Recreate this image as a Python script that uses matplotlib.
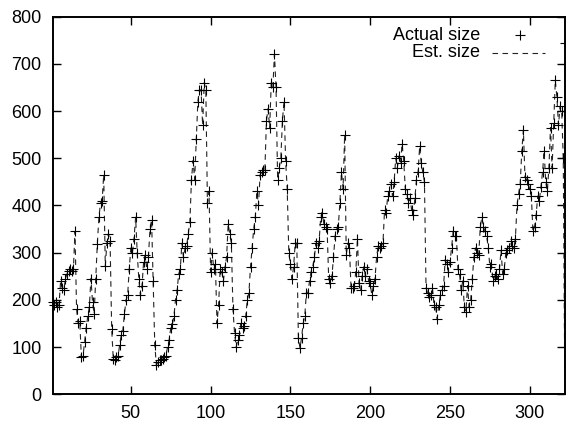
import numpy as np
import matplotlib
matplotlib.use('Agg')
import matplotlib.pyplot as plt
from matplotlib.lines import Line2D

# values, one per time step (x = 1..322)
actual_size = [
    195, 190, 195, 185, 190, 240, 225, 220, 245, 255,
    262, 265, 262, 265, 345, 180, 150, 155, 78, 80,
    110, 140, 165, 185, 245, 195, 170, 245, 318, 375,
    405, 410, 465, 272, 320, 340, 325, 138, 75, 72,
    78, 80, 105, 125, 135, 170, 200, 210, 265, 310,
    300, 330, 375, 300, 245, 210, 230, 280, 295, 265,
    290, 350, 370, 240, 105, 62, 68, 72, 72, 75,
    78, 82, 100, 115, 140, 148, 165, 200, 220, 255,
    265, 320, 290, 310, 315, 340, 365, 455, 495, 455,
    540, 620, 645, 645, 570, 660, 645, 405, 430, 260,
    300, 265, 275, 150, 190, 265, 260, 240, 270, 290,
    360, 340, 320, 180, 130, 100, 115, 125, 150, 140,
    145, 165, 200, 215, 270, 310, 350, 375, 430, 400,
    465, 470, 475, 475, 580, 605, 565, 660, 650, 720,
    650, 455, 480, 500, 580, 620, 495, 435, 300, 275,
    245, 270, 320, 320, 120, 98, 120, 150, 165, 215,
    215, 240, 260, 270, 290, 320, 310, 325, 375, 385,
    360, 355, 350, 245, 235, 250, 290, 335, 350, 355,
    405, 470, 435, 550, 295, 320, 310, 225, 225, 230,
    260, 330, 235, 220, 250, 270, 250, 265, 240, 235,
    210, 230, 245, 290, 315, 310, 315, 320, 390, 385,
    420, 430, 445, 420, 450, 500, 480, 505, 490, 530,
    495, 435, 425, 405, 415, 390, 380, 415, 455, 470,
    525, 490, 470, 450, 225, 215, 205, 210, 225, 190,
    185, 160, 190, 210, 220, 230, 285, 275, 260, 280,
    310, 345, 335, 335, 265, 255, 220, 240, 185, 175,
    230, 185, 200, 245, 290, 310, 300, 295, 355, 375,
    355, 345, 335, 310, 270, 275, 240, 250, 255, 245,
    265, 305, 255, 265, 300, 305, 310, 325, 315, 310,
    330, 400, 425, 445, 515, 560, 460, 455, 445, 435,
    420, 345, 355, 380, 420, 410, 440, 470, 515, 450,
    430, 480, 565, 480, 575, 665, 630, 570, 610, 600,
    500, 745,
]
# estimate follows the actual series, last step drops to zero
est_size = actual_size[:-1] + [0]

x = np.arange(1, len(actual_size) + 1)

plt.rcParams['font.family'] = ['Liberation Sans', 'DejaVu Sans']
plt.rcParams['font.size'] = 13

fig = plt.figure(figsize=(5.66, 4.23), dpi=100)
ax = fig.add_axes([0.093, 0.068, 0.905, 0.8925])

ax.plot(x, est_size, color='#222222', lw=0.8, dashes=(5, 4))
ax.plot(x, actual_size, linestyle='none', marker='+', ms=7, mew=0.8,
        color='black', clip_on=False)

ax.set_xlim(1, len(actual_size))
ax.set_ylim(0, 800)
ax.set_xticks([50, 100, 150, 200, 250, 300])
ax.set_yticks(range(0, 801, 100))

for s in ax.spines.values():
    s.set_linewidth(1.4)
ax.tick_params(direction='in', length=5.5, width=1.0, top=True, right=True,
               labelsize=13)
ax.tick_params(axis='x', pad=8)
ax.tick_params(axis='y', pad=8)

# gnuplot-style key: right-justified text, sample to the right
tr = ax.transAxes
ax.text(0.834, 0.9515, 'Actual size', transform=tr, ha='right', va='center')
ax.text(0.834, 0.904, 'Est. size', transform=tr, ha='right', va='center')
ax.add_line(Line2D([0.912], [0.9515], transform=tr, marker='+', ms=7,
                   mew=0.8, color='black', linestyle='none'))
ax.add_line(Line2D([0.857, 0.961], [0.904, 0.904], transform=tr,
                   color='#222222', lw=0.8, dashes=(5, 4)))

fig.savefig('out.png', dpi=100)
